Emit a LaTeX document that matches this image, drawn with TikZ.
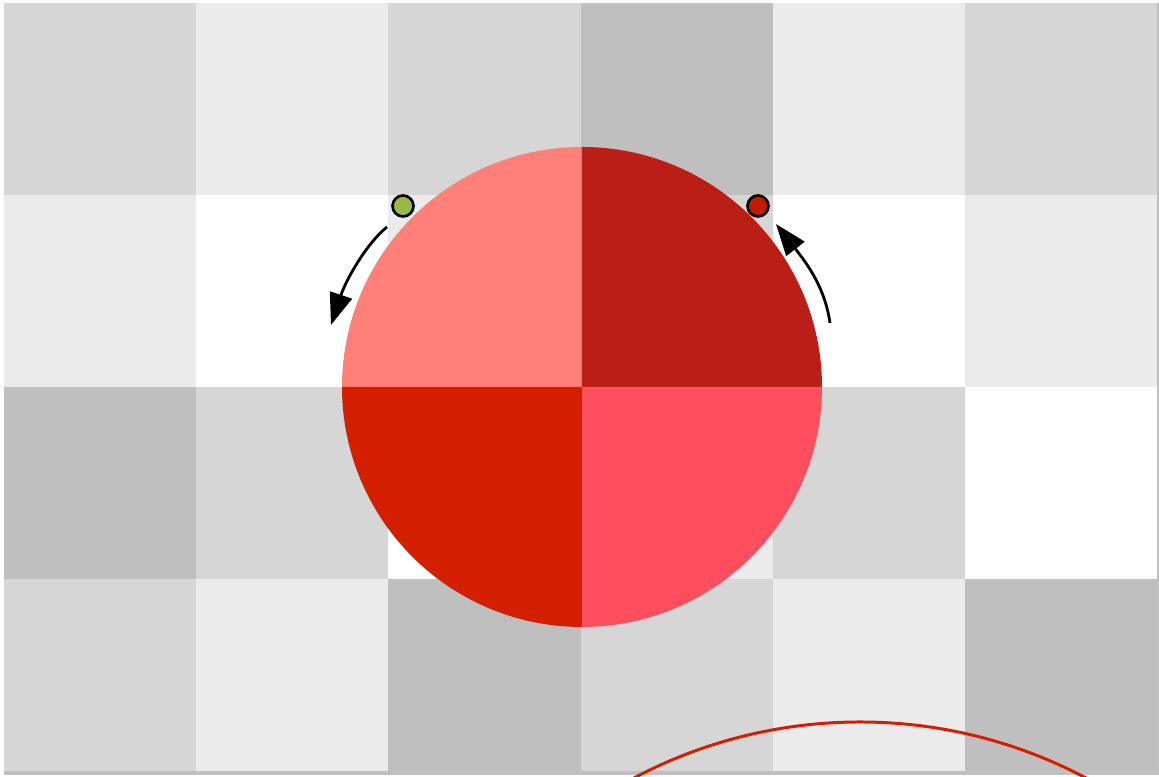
\documentclass[tikz,border=0pt]{standalone}
\usetikzlibrary{arrows.meta}

\definecolor{quadTL}{HTML}{FF7F79}
\definecolor{quadTR}{HTML}{BA1F17}
\definecolor{quadBR}{HTML}{FF4F5E}
\definecolor{quadBL}{HTML}{D41E00}
\definecolor{dotgreen}{HTML}{9AB847}
\definecolor{dotred}{HTML}{C11B00}
\definecolor{tileshadow}{HTML}{C0C0C0}

\begin{document}
\begin{tikzpicture}[
    x=0.01cm, y=-0.01cm,
    dot/.style={circle, draw=black, line width=0.75pt, fill=#1, minimum size=0.21cm, inner sep=0pt},
    turn/.style={-{Triangle[length=9pt, width=6.5pt]}, line width=0.8pt},
    ring/.style={draw=quadBL, line width=0.85pt}
  ]

  \useasboundingbox (0,0) rectangle (1159,777);

  % checker board
  \fill[tileshadow] (4,3) rectangle (1159,775);
  \foreach \row/\shades in {0/{16,8,16,25,8,16}, 1/{8,0,8,16,0,8}, 2/{25,16,0,8,16,0}, 3/{16,8,25,16,8,25}} {
    \foreach \s [count=\col from 0] in \shades {
      \fill[black!\s] ({4+192.2*\col},{3+192*\row}) rectangle ({4+192.2*(\col+1)},{3+192*(\row+1)});
    }
  }

  % the disc, in four quarters
  \coordinate (hub) at (582,387);
  \fill[quadTL] (hub) -- ++(-240,0) arc[start angle=180, end angle=270, radius=240] -- cycle;
  \fill[quadTR] (hub) -- ++(0,-240) arc[start angle=270, end angle=360, radius=240] -- cycle;
  \fill[quadBR] (hub) -- ++(240,0) arc[start angle=0, end angle=90, radius=240] -- cycle;
  \fill[quadBL] (hub) -- ++(0,240) arc[start angle=90, end angle=180, radius=240] -- cycle;

  % markers
  \node[dot=dotgreen] (start) at (403,206) {};
  \node[dot=dotred]   (stop)  at (758,206) {};

  % turning arrows
  \coordinate (ccwTail) at (387,227);
  \coordinate (ccwTip)  at (331,325);
  \coordinate (cwTail)  at (830,323);
  \coordinate (cwTip)   at (776,224);
  \draw[turn] (ccwTail) .. controls (366,244) and (346,280) .. (ccwTip);
  \draw[turn] (cwTail) .. controls (825,288) and (808,265) .. (cwTip);

  % ring at the bottom
  \begin{scope}
    \clip (0,0) rectangle (1159,777);
    \draw[ring] (860,1205) circle[radius=483];
  \end{scope}

\end{tikzpicture}
\end{document}
